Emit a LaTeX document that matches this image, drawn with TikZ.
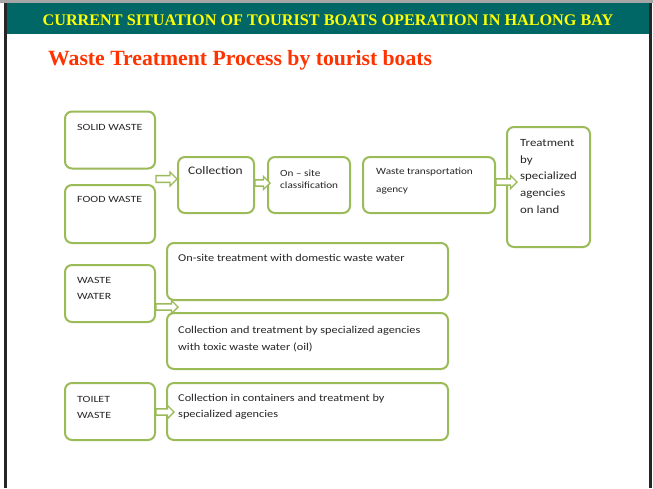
\documentclass[tikz,border=0pt]{standalone}
\usepackage{fontspec}
\setmainfont{Carlito}
\newfontfamily\timesfont{Liberation Serif}
\newfontfamily\wfont[FakeStretch=1.17]{Carlito}
\newfontfamily\sfont[FakeStretch=1.18]{Carlito}
\newfontfamily\cfont[FakeStretch=1.25]{Carlito}
\usetikzlibrary{shapes.arrows}
\definecolor{bandcol}{RGB}{0,102,102}
\definecolor{boxgreen}{RGB}{155,187,89}
\definecolor{titlered}{RGB}{255,51,0}
\definecolor{headyellow}{RGB}{255,255,0}
\tikzset{
  wbox/.style={draw=boxgreen, line width=2pt, rounded corners=7pt, fill=white, inner sep=0pt},
  barrow/.style={single arrow, draw=boxgreen, line width=1.4pt, fill=white, inner sep=2pt,
     single arrow head extend=3pt, single arrow tip angle=90, anchor=west, outer sep=0pt},
  txt/.style={anchor=base west, inner sep=0pt, text=black!85, font=\wfont\fontsize{10.5}{12}\selectfont},
  stxt/.style={anchor=base west, inner sep=0pt, text=black!85, font=\sfont\fontsize{9.5}{11}\selectfont},
  ctxt/.style={anchor=base west, inner sep=0pt, text=black!85, font=\cfont\fontsize{9.5}{11}\selectfont},
}
\begin{document}
\begin{tikzpicture}[x=1pt,y=-1pt]
\useasboundingbox (0,0) rectangle (653,488);
\fill[white] (0,0) rectangle (653,488);
\fill[black!35] (0,0) rectangle (653,3);
\fill[bandcol] (5,3) rectangle (650,34);
\fill[black!85] (4,3) rectangle (7,488);
\fill[black!85] (649,3) rectangle (652,488);
\node[inner sep=0pt, text=headyellow, font=\timesfont\bfseries\fontsize{16.2}{16}\selectfont] (head) at (328,20) {CURRENT SITUATION OF TOURIST BOATS OPERATION IN HALONG BAY};
\node[anchor=base west, inner sep=0pt, text=titlered, font=\timesfont\bfseries\fontsize{21.7}{22}\selectfont] (title) at (48,65) {Waste Treatment Process by tourist boats};
% boxes
\node[wbox, minimum width=90, minimum height=57] (solid) at (110,140) {};
\node[wbox, minimum width=90, minimum height=58] (food) at (110,214) {};
\node[wbox, minimum width=76, minimum height=56] (coll) at (216,185) {};
\node[wbox, minimum width=82, minimum height=56] (onsite) at (309,185) {};
\node[wbox, minimum width=132, minimum height=56] (trans) at (429,185) {};
\node[wbox, minimum width=83, minimum height=120] (treat) at (548.5,187) {};
\node[wbox, minimum width=90, minimum height=57] (ww) at (110,293.5) {};
\node[wbox, minimum width=281, minimum height=57] (dom) at (307.5,271.5) {};
\node[wbox, minimum width=281, minimum height=56] (toxic) at (307.5,341) {};
\node[wbox, minimum width=90, minimum height=57] (toilet) at (110,411.5) {};
\node[wbox, minimum width=281, minimum height=57] (cont) at (307.5,411.5) {};
% arrows
\node[barrow, minimum height=21, minimum width=14] (a1) at (solid.east |- 0,179) {};
\node[barrow, minimum height=15, minimum width=13] (a2) at (coll.east |- 0,183) {};
\node[barrow, minimum height=21, minimum width=13] (a3) at (trans.east |- 0,182) {};
\node[barrow, minimum height=22, minimum width=13] (a4) at (ww.east |- 0,307) {};
\node[barrow, minimum height=18, minimum width=13] (a5) at (toilet.east |- 0,412) {};
% texts
\node[ctxt] (t1) at (77,130) {SOLID WASTE};
\node[ctxt] (t2) at (77,202) {FOOD WASTE};
\node[txt, font=\wfont\fontsize{11.5}{12}\selectfont] (t3) at (188,174) {Collection};
\node[stxt] (t4) at (280,176) {On – site};
\node[stxt] (t5) at (280,188) {classification};
\node[stxt] (t6) at (376,174) {Waste transportation};
\node[stxt] (t7) at (376,192) {agency};
\node[txt, font=\wfont\fontsize{11}{12}\selectfont] (t8) at (520,146) {Treatment};
\node[txt, font=\wfont\fontsize{11}{12}\selectfont] (t9) at (520,163) {by};
\node[txt, font=\wfont\fontsize{11}{12}\selectfont] (t10) at (520,179.5) {specialized};
\node[txt, font=\wfont\fontsize{11}{12}\selectfont] (t11) at (520,196) {agencies};
\node[txt, font=\wfont\fontsize{11}{12}\selectfont] (t12) at (520,213) {on land};
\node[ctxt] (t13) at (77,283) {WASTE};
\node[ctxt] (t14) at (77,299) {WATER};
\node[txt] (t15) at (178,261) {On-site treatment with domestic waste water};
\node[txt] (t16) at (178,333) {Collection and treatment by specialized agencies};
\node[txt] (t17) at (178,350) {with toxic waste water (oil)};
\node[ctxt] (t18) at (77,402) {TOILET};
\node[ctxt] (t19) at (77,418) {WASTE};
\node[txt] (t20) at (178,401) {Collection in containers and treatment by};
\node[txt] (t21) at (178,417) {specialized agencies};
\end{tikzpicture}
\end{document}
